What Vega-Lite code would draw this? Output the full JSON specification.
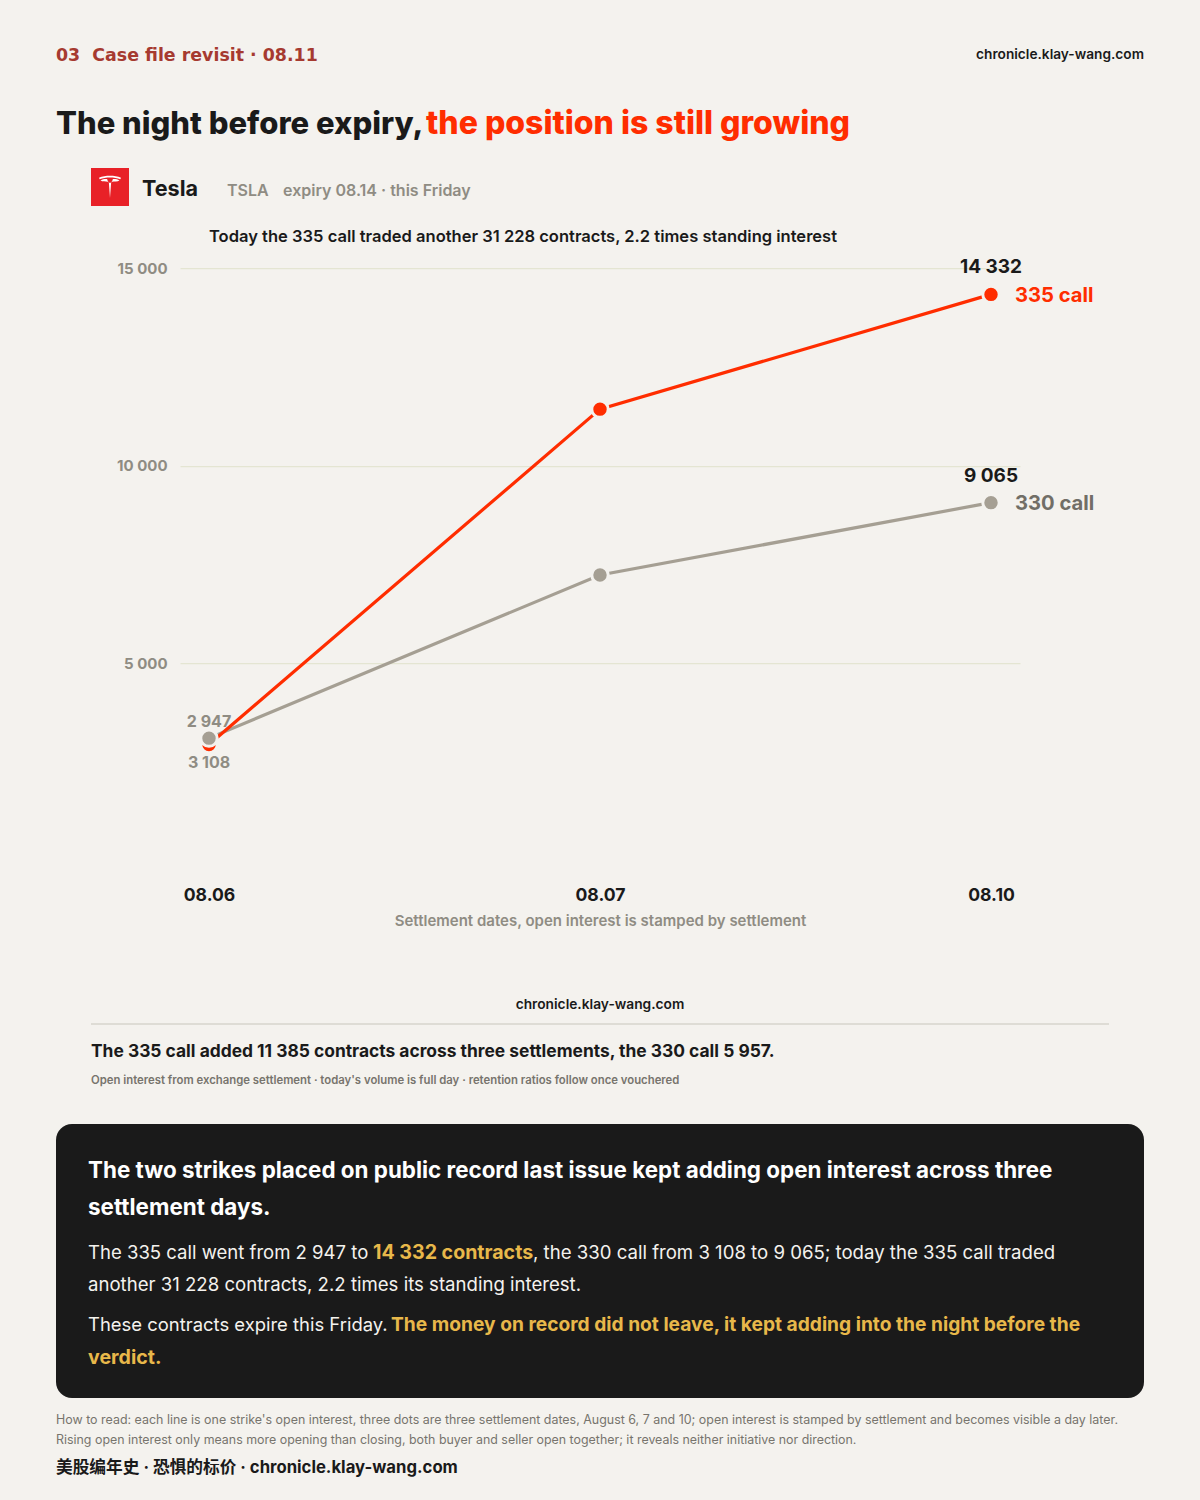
{
"$schema":"https://vega.github.io/schema/vega-lite/v6.json",
"width":840,"height":593,
"autosize":{"type":"none"},
"padding":{"left":180,"right":180,"top":268,"bottom":639},
"background":"#f4f2ee",
"config":{"view":{"stroke":null},"text":{"font":"Inter","baseline":"alphabetic","align":"left"}},
"datasets":{"oi":[
{"date":"08.06","series":"330 call","oi":3108,"label":"3 108"},
{"date":"08.07","series":"330 call","oi":7235,"label":""},
{"date":"08.10","series":"330 call","oi":9065,"label":"9 065"},
{"date":"08.06","series":"335 call","oi":2947,"label":"2 947"},
{"date":"08.07","series":"335 call","oi":11430,"label":""},
{"date":"08.10","series":"335 call","oi":14332,"label":"14 332"}
]},
"encoding":{},
"layer":[
{"data":{"name":"oi"},"mark":{"type":"line","strokeWidth":3.2},
 "encoding":{
  "x":{"field":"date","type":"ordinal","scale":{"type":"point","padding":0.07417,"domain":["08.06","08.07","08.10"]},
   "axis":{"title":"Settlement dates, open interest is stamped by settlement","labelAngle":0,"domain":false,"ticks":false,"grid":false,"labelPadding":25,"labelFont":"Inter","labelFontSize":17.6,"labelFontWeight":700,"labelColor":"#1a1a1a","titleFont":"Inter","titleFontSize":15,"titleFontWeight":600,"titleColor":"#8f8c83","titlePadding":10}},
  "y":{"field":"oi","type":"quantitative","scale":{"domain":[0,15000],"nice":false},
   "axis":{"title":null,"values":[5000,10000,15000],"domain":false,"ticks":false,"grid":true,"gridColor":"#e4e5d2","gridWidth":1.25,"labelPadding":13,"labelFont":"Inter","labelFontSize":15,"labelFontWeight":700,"labelColor":"#8f8c83","labelExpr":"replace(format(datum.value,','),',',' ')"}},
  "color":{"field":"series","type":"nominal","scale":{"domain":["330 call","335 call"],"range":["#a59f93","#ff2d00"]},"legend":null},
  "order":{"field":"date"}
 }},
{"data":{"name":"oi"},"transform":[{"filter":"datum.series==='335 call'"}],"mark":{"type":"point","filled":true,"size":270,"opacity":1,"color":"#ff2d00","stroke":"#f4f2ee","strokeWidth":3},
 "encoding":{"x":{"field":"date","type":"ordinal"},"y":{"field":"oi","type":"quantitative"}}},
{"data":{"name":"oi"},"transform":[{"filter":"datum.series==='330 call'"}],"mark":{"type":"point","filled":true,"size":270,"opacity":1,"color":"#a59f93","stroke":"#f4f2ee","strokeWidth":3},
 "encoding":{"x":{"field":"date","type":"ordinal"},"y":{"field":"oi","type":"quantitative"}}},
{"data":{"name":"oi"},"transform":[{"filter":"datum.date==='08.10'"}],"mark":{"type":"text","align":"center","dy":-21,"fontSize":19,"fontWeight":700,"color":"#1a1a1a"},
 "encoding":{"x":{"field":"date","type":"ordinal"},"y":{"field":"oi","type":"quantitative"},"text":{"field":"label"}}},
{"data":{"name":"oi"},"transform":[{"filter":"datum.date==='08.06' && datum.series==='335 call'"}],"mark":{"type":"text","align":"center","dy":-17,"fontSize":16,"fontWeight":700,"color":"#8f8c83"},
 "encoding":{"x":{"field":"date","type":"ordinal"},"y":{"field":"oi","type":"quantitative"},"text":{"field":"label"}}},
{"data":{"name":"oi"},"transform":[{"filter":"datum.date==='08.06' && datum.series==='330 call'"}],"mark":{"type":"text","align":"center","dy":30,"fontSize":16,"fontWeight":700,"color":"#8f8c83"},
 "encoding":{"x":{"field":"date","type":"ordinal"},"y":{"field":"oi","type":"quantitative"},"text":{"field":"label"}}},
{"data":{"name":"oi"},"transform":[{"filter":"datum.date==='08.10' && datum.series==='335 call'"}],"mark":{"type":"text","dx":24,"dy":8,"fontSize":20.2,"fontWeight":700,"color":"#ff2d00"},
 "encoding":{"x":{"field":"date","type":"ordinal"},"y":{"field":"oi","type":"quantitative"},"text":{"field":"series"}}},
{"data":{"name":"oi"},"transform":[{"filter":"datum.date==='08.10' && datum.series==='330 call'"}],"mark":{"type":"text","dx":24,"dy":7,"fontSize":20.2,"fontWeight":700,"color":"#716e67"},
 "encoding":{"x":{"field":"date","type":"ordinal"},"y":{"field":"oi","type":"quantitative"},"text":{"field":"series"}}},

{"data":{"values":[{"t":"03\u00a0\u00a0Case file revisit · 08.11"}]},"mark":{"type":"text","x":-124,"y":-207,"fontSize":17.4,"fontWeight":700,"font":"DejaVu Sans","color":"#a63a30"},"encoding":{"text":{"field":"t"}}},
{"data":{"values":[{"t":"chronicle.klay-wang.com"}]},"mark":{"type":"text","align":"right","x":964,"y":-209,"fontSize":13.7,"fontWeight":600,"color":"#1a1a1a"},"encoding":{"text":{"field":"t"}}},
{"data":{"values":[{"t":"The night before expiry,"}]},"mark":{"type":"text","x":-124,"y":-134,"fontSize":31,"fontWeight":800,"color":"#1a1a1a"},"encoding":{"text":{"field":"t"}}},
{"data":{"values":[{"t":"the position is still growing"}]},"mark":{"type":"text","x":246,"y":-134,"fontSize":32,"fontWeight":800,"color":"#ff2d00"},"encoding":{"text":{"field":"t"}}},
{"data":{"values":[{"brand":"Tesla"}]},"mark":{"type":"rect","x":-89,"x2":-51,"y":-100,"y2":-62,"color":"#e82127"},"encoding":{}},
{"data":{"values":[{"brand":"Tesla"}]},"mark":{"type":"point","x":-70,"y":-81,"size":1936,"filled":true,"opacity":1,"color":"#ffffff","strokeWidth":0,"shape":"M-0.5,-0.42 C-0.2,-0.54 0.2,-0.54 0.5,-0.42 L0.47,-0.35 C0.2,-0.46 -0.2,-0.46 -0.47,-0.35 Z M-0.43,-0.3 C-0.33,-0.36 -0.22,-0.37 -0.13,-0.36 C-0.12,-0.28 -0.06,-0.22 -0.05,-0.18 L0,0.5 L0.05,-0.18 C0.06,-0.22 0.12,-0.28 0.13,-0.36 C0.22,-0.37 0.33,-0.36 0.43,-0.3 C0.34,-0.24 0.2,-0.27 0.1,-0.24 L0,-0.18 L-0.1,-0.24 C-0.2,-0.27 -0.34,-0.24 -0.43,-0.3 Z"},"encoding":{}},
{"data":{"values":[{"t":"Tesla"}]},"mark":{"type":"text","x":-38,"y":-72,"fontSize":21.6,"fontWeight":700,"color":"#1a1a1a"},"encoding":{"text":{"field":"t"}}},
{"data":{"values":[{"t":"TSLA"}]},"mark":{"type":"text","x":47,"y":-72,"fontSize":16,"fontWeight":600,"color":"#8f8c83"},"encoding":{"text":{"field":"t"}}},
{"data":{"values":[{"t":"expiry 08.14 · this Friday"}]},"mark":{"type":"text","x":103,"y":-72,"fontSize":16,"fontWeight":600,"color":"#8f8c83"},"encoding":{"text":{"field":"t"}}},
{"data":{"values":[{"t":"Today the 335 call traded another 31 228 contracts, 2.2 times standing interest"}]},"mark":{"type":"text","x":29,"y":-26,"fontSize":16.55,"fontWeight":600,"color":"#1a1a1a"},"encoding":{"text":{"field":"t"}}},

{"data":{"values":[{"t":"chronicle.klay-wang.com"}]},"mark":{"type":"text","align":"center","x":420,"y":741,"fontSize":13.75,"fontWeight":600,"color":"#1a1a1a"},"encoding":{"text":{"field":"t"}}},
{"data":{"values":[{"t":"divider"}]},"mark":{"type":"rule","stroke":"#dedcd5","strokeWidth":2},"encoding":{"x":{"value":-89},"x2":{"value":929},"y":{"value":756}}},
{"data":{"values":[{"t":"The 335 call added 11 385 contracts across three settlements, the 330 call 5 957."}]},"mark":{"type":"text","x":-89,"y":789,"fontSize":17.4,"fontWeight":700,"color":"#1a1a1a"},"encoding":{"text":{"field":"t"}}},
{"data":{"values":[{"t":"Open interest from exchange settlement · today's volume is full day · retention ratios follow once vouchered"}]},"mark":{"type":"text","x":-89,"y":816,"fontSize":11.35,"fontWeight":600,"color":"#77746d"},"encoding":{"text":{"field":"t"}}},

{"data":{"values":[{"t":"panel"}]},"mark":{"type":"rect","x":-124,"x2":964,"y":856,"y2":1130,"cornerRadius":16,"color":"#1a1a1a"},"encoding":{}},
{"data":{"values":[{"t":"The two strikes placed on public record last issue kept adding open interest across three"}]},"mark":{"type":"text","x":-92,"y":910,"fontSize":22.4,"fontWeight":700,"color":"#ffffff"},"encoding":{"text":{"field":"t"}}},
{"data":{"values":[{"t":"settlement days."}]},"mark":{"type":"text","x":-92,"y":947,"fontSize":22.4,"fontWeight":700,"color":"#ffffff"},"encoding":{"text":{"field":"t"}}},
{"data":{"values":[{"t":"The 335 call went from 2 947 to"}]},"mark":{"type":"text","x":-92,"y":991,"fontSize":18.55,"fontWeight":400,"color":"#f4f2ee"},"encoding":{"text":{"field":"t"}}},
{"data":{"values":[{"t":"14 332 contracts"}]},"mark":{"type":"text","x":193,"y":991,"fontSize":19.6,"fontWeight":700,"color":"#e8b84a"},"encoding":{"text":{"field":"t"}}},
{"data":{"values":[{"t":", the 330 call from 3 108 to 9 065; today the 335 call traded"}]},"mark":{"type":"text","x":353,"y":991,"fontSize":18.6,"fontWeight":400,"color":"#f4f2ee"},"encoding":{"text":{"field":"t"}}},
{"data":{"values":[{"t":"another 31 228 contracts, 2.2 times its standing interest."}]},"mark":{"type":"text","x":-92,"y":1023,"fontSize":18.6,"fontWeight":400,"color":"#f4f2ee"},"encoding":{"text":{"field":"t"}}},
{"data":{"values":[{"t":"These contracts expire this Friday."}]},"mark":{"type":"text","x":-92,"y":1063,"fontSize":18.45,"fontWeight":400,"color":"#f4f2ee"},"encoding":{"text":{"field":"t"}}},
{"data":{"values":[{"t":"The money on record did not leave, it kept adding into the night before the"}]},"mark":{"type":"text","x":211,"y":1063,"fontSize":19.2,"fontWeight":700,"color":"#e8b84a"},"encoding":{"text":{"field":"t"}}},
{"data":{"values":[{"t":"verdict."}]},"mark":{"type":"text","x":-92,"y":1096,"fontSize":19.6,"fontWeight":700,"color":"#e8b84a"},"encoding":{"text":{"field":"t"}}},

{"data":{"values":[{"t":"How to read: each line is one strike's open interest, three dots are three settlement dates, August 6, 7 and 10; open interest is stamped by settlement and becomes visible a day later."}]},"mark":{"type":"text","x":-124,"y":1156,"fontSize":12.44,"fontWeight":400,"color":"#77746d"},"encoding":{"text":{"field":"t"}}},
{"data":{"values":[{"t":"Rising open interest only means more opening than closing, both buyer and seller open together; it reveals neither initiative nor direction."}]},"mark":{"type":"text","x":-124,"y":1176,"fontSize":12.42,"fontWeight":400,"color":"#77746d"},"encoding":{"text":{"field":"t"}}},
{"data":{"values":[{"t":"美股编年史 · 恐惧的标价 · chronicle.klay-wang.com"}]},"mark":{"type":"text","x":-124,"y":1205,"fontSize":16.7,"fontWeight":700,"font":"Inter, Noto Sans CJK SC","color":"#1a1a1a"},"encoding":{"text":{"field":"t"}}}
]
}
